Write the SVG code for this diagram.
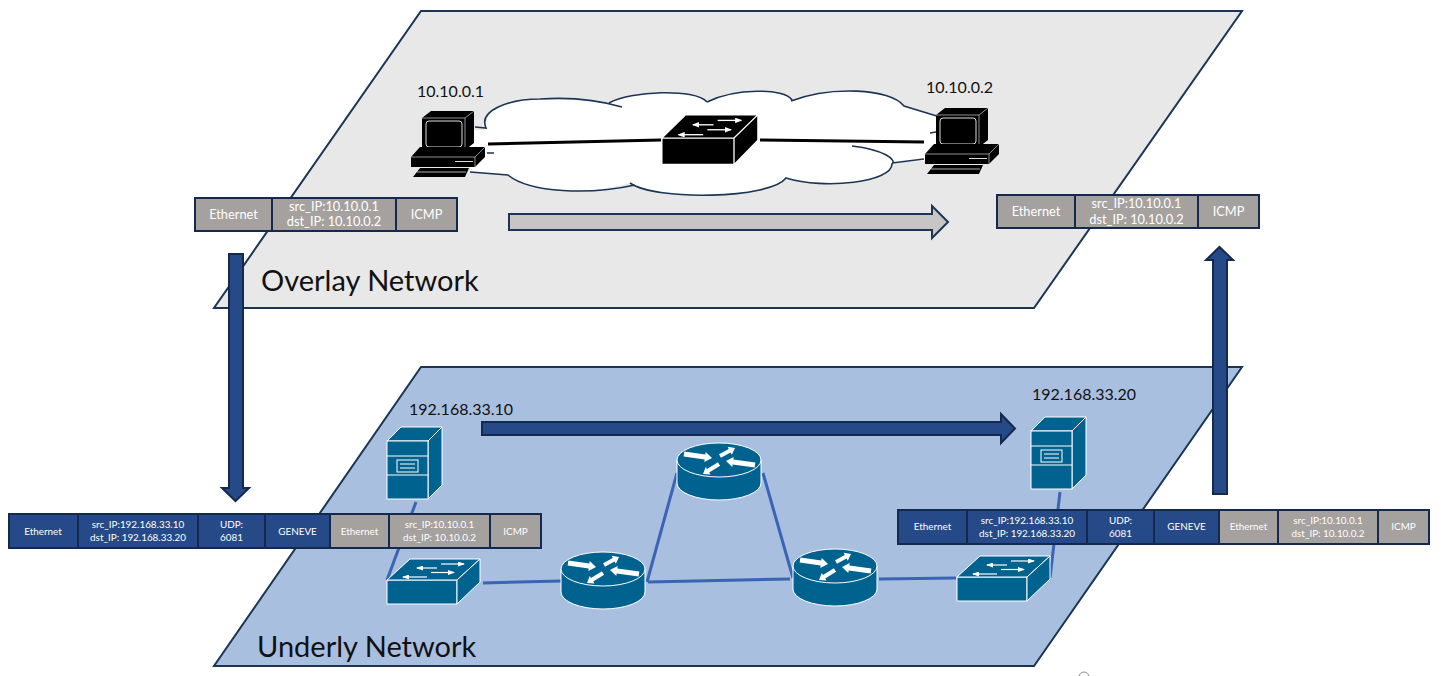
<svg xmlns="http://www.w3.org/2000/svg" xmlns:xlink="http://www.w3.org/1999/xlink" width="1443" height="676" viewBox="0 0 1443 676">
<style>
text{font-family:"Lato","Open Sans","Liberation Sans",sans-serif}
.plane{stroke:#1c3554;stroke-width:2}
.lb{fill:#111;font-size:16px}
.title{fill:#111;font-size:29px}
.b{fill:#264a87;stroke:#14294d;stroke-width:2}
.g{fill:#a5a19f;stroke:#14294d;stroke-width:2}
.t1{fill:#fff;font-size:12.800px;text-anchor:middle}
.t2{fill:#fff;font-size:9.900px;text-anchor:middle}
.link{stroke:#3a64b4;stroke-width:3;fill:none}
.blk{stroke:#000;stroke-width:3;fill:none}
.cl{stroke:#1c3554;stroke-width:1.6;fill:none}
.arrow{fill:#264a87;stroke:#14294d;stroke-width:2}
</style>
<defs>
<marker id="h" markerUnits="userSpaceOnUse" markerWidth="7" markerHeight="5" refX="6" refY="2.500" orient="auto"><path d="M0 0L7 2.500L0 5Z" fill="#fff"/></marker>
<g id="router">
<path d="M-42 0V23A42 17 0 0 0 42 23V0Z" fill="#00628f" stroke="#fff" stroke-width="1"/>
<ellipse rx="42" ry="17" fill="#00628f" stroke="#fff" stroke-width="1"/>
<g fill="#fff">
<polygon points="-34.65,-8.5 -13.65,-5.5 -13.3,-8 -7,-2 -14.7,2 -14.35,-0.5 -35.35,-3.5"/>
<polygon points="36.35,2.5 14.35,-0.5 14.7,-3 7,1 13.3,7 13.65,4.5 35.65,7.5"/>
<polygon points="1.9,-2.2 11.6,-7.4 12.8,-5.2 16,-12 8.6,-13.2 9.8,-11 0.1,-5.8"/>
<polygon points="1.1,5.7 -9.8,12.5 -8.5,14.6 -16,14 -13.3,7 -12,9.1 -1.1,2.3"/>
</g>
</g>
<g id="switch">
<path d="M0 0H70V24H0Z" fill="currentColor" stroke-width="1"/>
<path d="M0 0L23 -21H93L70 0Z" fill="currentColor" stroke-width="1"/>
<path d="M70 0L93 -21V2L70 24Z" fill="currentColor" stroke-width="1"/>
<g stroke="#fff" stroke-width="1.200" fill="none">
<path d="M54 -16H77" marker-end="url(#h)"/>
<path d="M50 -12H30" marker-end="url(#h)"/>
<path d="M44 -7.5H67" marker-end="url(#h)"/>
<path d="M40 -3H16" marker-end="url(#h)"/>
</g>
</g>
<g id="server" fill="#00628f" stroke="#fff" stroke-width="1">
<path d="M0 14L14 0H55L41 14Z"/>
<path d="M41 14L55 0V58L41 72Z"/>
<rect x="0" y="14" width="41" height="58"/>
<path d="M0 29H41M0 48H41" fill="none"/>
<rect x="10" y="33" width="21" height="12" fill="none"/>
<path d="M13 37H28M13 41H28" fill="none"/>
</g>
<g id="pc">
<path d="M11 7L20 0H63V32L54 39H11Z" fill="#000"/>
<path d="M11 7H54V39M54 7L63 0" stroke="#ccc" stroke-width=".7" fill="none"/>
<rect x="15" y="10" width="36" height="26" rx="3" fill="#000" stroke="#ddd" stroke-width="1"/>
<path d="M0 46L9 36H74V46L64 56H0Z" fill="#000"/>
<path d="M0 46H64V56M64 46L74 36" stroke="#ccc" stroke-width=".7" fill="none"/>
<path d="M44 50.5H62" stroke="#ddd" stroke-width="1"/>
<path d="M9 57H58L54 66H2Z" fill="#000"/>
<path d="M6 61H55" stroke="#ddd" stroke-width=".8"/>
</g>
</defs>
<rect width="1443" height="676" fill="#fff"/>

<g id="overlay-plane"><polygon class="plane" fill="#e8e8e8" points="421,11 1242,11 1034,308 214,308"/>
<text class="title" x="261" y="291">Overlay Network</text></g>
<g id="underly-plane"><polygon class="plane" fill="#a9bfe0" points="421,367 1242,367 1034,666 214,666"/>
<text class="title" x="257" y="657">Underly Network</text></g>

<g id="cloud">
<path fill="#fff" d="M484 130C478 110 510 99 540 99C570 97 595 99 609 103C630 91 695 88 707 102C735 88 785 88 792 100C830 86 890 88 904 106L940 117V160L892 163C892 182 825 190 786 178C770 199 655 201 630 183C590 195 530 193 508 175L470 172V130Z"/>
<path class="cl" d="M475 127L486 128C478 110 510 99 540 99C570 97 595 99 622 107M609 103C630 91 695 88 707 102M707 102C735 88 785 88 792 100M791 101C830 86 890 88 904 106L940 117M852 146C885 150 897 160 892 164C892 182 825 190 786 178C770 199 655 201 630 183M635 185C590 195 530 193 508 175L470 172M892 163L924 159M487 153H494M930 133L936 132"/>
</g>

<g id="connectors">
<path class="blk" d="M488 144L661 140"/>
<path class="blk" d="M760 140L924 142"/>
<path class="link" d="M416 502L387 580"/>
<path class="link" d="M483 583L561 581"/>
<path class="link" d="M677 473L647 582"/>
<path class="link" d="M648 582L790 579"/>
<path class="link" d="M763 473L793 578"/>
<path class="link" d="M879 579L956 578"/>
<path class="link" d="M1060 492L1050 578"/>
</g>

<g id="pc-left"><text class="lb" x="417" y="97">10.10.0.1</text><use href="#pc" x="411" y="111"/></g>
<g id="pc-right"><text class="lb" x="926" y="93">10.10.0.2</text><use href="#pc" x="925" y="108"/></g>
<g id="overlay-switch"><use href="#switch" transform="translate(662,138) scale(1.030,1.100)" color="#000" stroke="#fff"/></g>
<g id="server-left"><text class="lb" x="409" y="415">192.168.33.10</text><use href="#server" x="387" y="427"/></g>
<g id="server-right"><text class="lb" x="1032" y="400">192.168.33.20</text><use href="#server" x="1031" y="417"/></g>
<g id="underlay-switch-left"><use href="#switch" x="387" y="580" color="#00628f" stroke="#fff"/></g>
<g id="underlay-switch-right"><use href="#switch" x="957" y="577" color="#00628f" stroke="#fff"/></g>
<g id="router-1"><use href="#router" x="603" y="569"/></g>
<g id="router-2"><use href="#router" x="719" y="460"/></g>
<g id="router-3"><use href="#router" x="835" y="566"/></g>

<g id="packet-overlay-left">
<rect class="g" x="195" y="198" width="77" height="33"/><rect class="g" x="272" y="198" width="124" height="33"/><rect class="g" x="396" y="198" width="61" height="33"/>
<text class="t1" x="233.500" y="219">Ethernet</text><text class="t1" x="334" y="211">src_IP:10.10.0.1</text><text class="t1" x="334" y="226">dst_IP: 10.10.0.2</text><text class="t1" x="426.500" y="219">ICMP</text>
</g>
<g id="packet-overlay-right">
<rect class="g" x="997" y="195" width="78" height="33"/><rect class="g" x="1075" y="195" width="123" height="33"/><rect class="g" x="1198" y="195" width="61" height="33"/>
<text class="t1" x="1036" y="216">Ethernet</text><text class="t1" x="1136.500" y="208">src_IP:10.10.0.1</text><text class="t1" x="1136.500" y="224">dst_IP: 10.10.0.2</text><text class="t1" x="1228.500" y="216">ICMP</text>
</g>
<g id="packet-underlay-left">
<rect class="b" x="9" y="514" width="69" height="34"/><rect class="b" x="78" y="514" width="120" height="34"/><rect class="b" x="198" y="514" width="67" height="34"/><rect class="b" x="265" y="514" width="65" height="34"/>
<rect class="g" x="330" y="514" width="59" height="34"/><rect class="g" x="389" y="514" width="101" height="34"/><rect class="g" x="490" y="514" width="51" height="34"/>
<text class="t2" x="43" y="535">Ethernet</text><text class="t2" x="138" y="528">src_IP:192.168.33.10</text><text class="t2" x="138" y="541">dst_IP: 192.168.33.20</text>
<text class="t2" x="231.500" y="528">UDP:</text><text class="t2" x="231.500" y="541">6081</text><text class="t2" x="297.500" y="535">GENEVE</text>
<text class="t2" x="359.500" y="535">Ethernet</text><text class="t2" x="439.500" y="528">src_IP:10.10.0.1</text><text class="t2" x="439.500" y="541">dst_IP: 10.10.0.2</text><text class="t2" x="515.500" y="535">ICMP</text>
</g>
<g id="packet-underlay-right">
<rect class="b" x="898" y="510" width="69" height="34"/><rect class="b" x="967" y="510" width="120" height="34"/><rect class="b" x="1087" y="510" width="67" height="34"/><rect class="b" x="1154" y="510" width="65" height="34"/>
<rect class="g" x="1219" y="510" width="59" height="34"/><rect class="g" x="1278" y="510" width="100" height="34"/><rect class="g" x="1378" y="510" width="51" height="34"/>
<text class="t2" x="932.500" y="530">Ethernet</text><text class="t2" x="1027" y="524">src_IP:192.168.33.10</text><text class="t2" x="1027" y="537">dst_IP: 192.168.33.20</text>
<text class="t2" x="1120.500" y="524">UDP:</text><text class="t2" x="1120.500" y="537">6081</text><text class="t2" x="1186.500" y="530">GENEVE</text>
<text class="t2" x="1248.500" y="530">Ethernet</text><text class="t2" x="1328" y="524">src_IP:10.10.0.1</text><text class="t2" x="1328" y="537">dst_IP: 10.10.0.2</text><text class="t2" x="1403.500" y="530">ICMP</text>
</g>

<g id="flow-arrows">
<polygon fill="#c8c6c4" stroke="#1c3554" stroke-width="2" points="509,214 932,214 932,206 948,222 932,238 932,230 509,230"/>
<polygon class="arrow" points="482,422 1001,422 1001,414 1015,428.500 1001,443 1001,435 482,435"/>
<polygon class="arrow" points="229,254 243,254 243,488 249,488 235.500,501 222,488 229,488"/>
<polygon class="arrow" points="1213,494 1227,494 1227,260 1233,260 1219.500,247 1206,260 1213,260"/>
</g>
<circle cx="1084" cy="677" r="5" fill="none" stroke="#888" stroke-width="1"/>
</svg>
